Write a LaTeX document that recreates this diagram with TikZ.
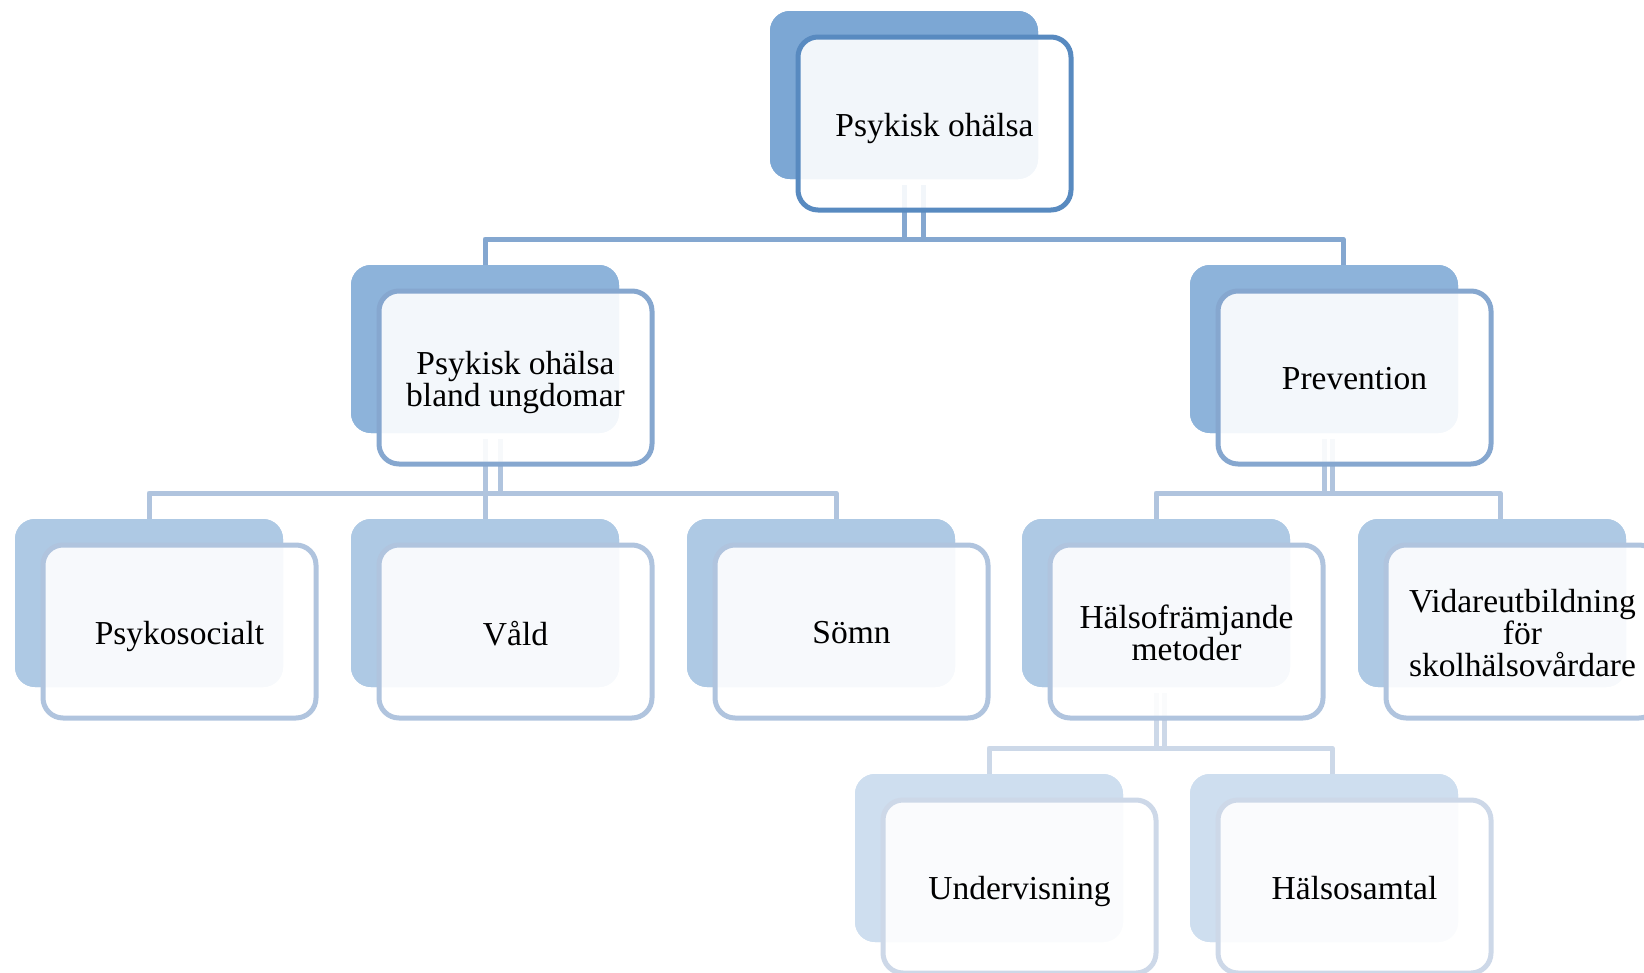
\documentclass[tikz,border=0pt]{standalone}
\usepackage{fontspec}
\setmainfont{Liberation Serif}
\definecolor{backA}{HTML}{7CA7D4}
\definecolor{lineA}{HTML}{588AC0}
\definecolor{connA}{HTML}{84A7D0}
\definecolor{backB}{HTML}{8DB3DA}
\definecolor{lineB}{HTML}{86A7CF}
\definecolor{connB}{HTML}{B0C4DE}
\definecolor{backC}{HTML}{AEC9E4}
\definecolor{lineC}{HTML}{B0C4DE}
\definecolor{connC}{HTML}{CCD8E8}
\definecolor{backD}{HTML}{CEDEEF}
\definecolor{lineD}{HTML}{CDD8E8}
\begin{document}
\begin{tikzpicture}[x=1pt,y=-1pt,
  back/.style={rectangle, rounded corners=20pt, minimum width=268pt, minimum height=168pt, inner sep=0pt, outer sep=0pt},
  front/.style={rectangle, rounded corners=20pt, minimum width=273pt, minimum height=173pt, line width=5pt, fill=white, fill opacity=0.9, outer sep=0pt},
  label/.style={align=center, inner sep=0pt, yshift=-5pt, font=\fontsize{33.5}{32}\selectfont, execute at end node={\vphantom{y}}},
  conn/.style={line width=5pt, line join=round},
  backa/.style={back, fill=backA}, fronta/.style={front, draw=lineA},
  backb/.style={back, fill=backB}, frontb/.style={front, draw=lineB},
  backc/.style={back, fill=backC}, frontc/.style={front, draw=lineC},
  backd/.style={back, fill=backD}, frontd/.style={front, draw=lineD},
]
\useasboundingbox (0,0) rectangle (1644,972);
\clip (0,0) rectangle (1644,972);
% back rectangles (positions)
\node[backa] (b0) at (904,95) {};
\node[backb] (bL) at (485,349) {};
\node[backb] (bR) at (1324,349) {};
\node[backc] (bP) at (149,603) {};
\node[backc] (bV) at (485,603) {};
\node[backc] (bS) at (821,603) {};
\node[backc] (bH) at (1156,603) {};
\node[backc] (bW) at (1492,603) {};
\node[backd] (bU) at (989,858) {};
\node[backd] (bT) at (1324,858) {};
\coordinate (m0) at ([yshift=26pt]bL.north);
\coordinate (m1) at ([yshift=26pt]bP.north);
\coordinate (m2) at ([yshift=26pt]bU.north);
% connectors
\draw[conn, draw=connA] ([yshift=-6pt]b0.south) |- (m0) -- (bL.north);
\draw[conn, draw=connA] ([xshift=19pt,yshift=-6pt]b0.south) |- ([xshift=19pt,yshift=26pt]bR.north) -- ([xshift=19pt]bR.north);
\draw[conn, draw=connA] (b0.south |- m0) -- ++(19,0);
\draw[conn, draw=connB] ([yshift=-6pt]bL.south) |- (m1) -- (bP.north);
\draw[conn, draw=connB] ([yshift=-6pt]bL.south) -- (bV.north);
\draw[conn, draw=connB] ([xshift=15pt,yshift=-6pt]bL.south) |- ([xshift=15pt,yshift=26pt]bS.north) -- ([xshift=15pt]bS.north);
\draw[conn, draw=connB] (bL.south |- m1) -- ++(15,0);
\draw[conn, draw=connB] ([yshift=-6pt]bR.south) |- ([yshift=26pt]bH.north) -- (bH.north);
\draw[conn, draw=connB] ([xshift=8pt,yshift=-6pt]bR.south) |- ([xshift=8pt,yshift=26pt]bW.north) -- ([xshift=8pt]bW.north);
\draw[conn, draw=connB] (bR.south |- m1) -- ++(8,0);
\draw[conn, draw=connC] ([yshift=-6pt]bH.south) |- (m2) -- (bU.north);
\draw[conn, draw=connC] ([xshift=8pt,yshift=-6pt]bH.south) |- ([xshift=8pt,yshift=26pt]bT.north) -- ([xshift=8pt]bT.north);
\draw[conn, draw=connC] (bH.south |- m2) -- ++(8,0);
% back rectangles again, over the connector ends
\node[backa] at (b0) {};
\node[backb] at (bL) {};
\node[backb] at (bR) {};
\node[backc] at (bP) {};
\node[backc] at (bV) {};
\node[backc] at (bS) {};
\node[backc] at (bH) {};
\node[backc] at (bW) {};
\node[backd] at (bU) {};
\node[backd] at (bT) {};
% front rectangles
\node[fronta] (f0) at (934.5,123.5) {};
\node[frontb] (fL) at (515.5,377.5) {};
\node[frontb] (fR) at (1354.5,377.5) {};
\node[frontc] (fP) at (179.5,631.5) {};
\node[frontc] (fV) at (515.5,631.5) {};
\node[frontc] (fS) at (851.5,631.5) {};
\node[frontc] (fH) at (1186.5,631.5) {};
\node[frontc] (fW) at (1522.5,631.5) {};
\node[frontd] (fU) at (1019.5,886.5) {};
\node[frontd] (fT) at (1354.5,886.5) {};
% texts
\node[label] (t0) at (f0) {Psykisk ohälsa};
\node[label] (tL) at (fL) {Psykisk ohälsa\\bland ungdomar};
\node[label] (tR) at (fR) {Prevention};
\node[label] (tP) at (fP) {Psykosocialt};
\node[label] (tV) at (fV) {Våld};
\node[label] (tS) at (fS) {Sömn};
\node[label] (tH) at (fH) {Hälsofrämjande\\metoder};
\node[label] (tW) at (fW) {Vidareutbildning\\för\\skolhälsovårdare};
\node[label] (tU) at (fU) {Undervisning};
\node[label] (tT) at (fT) {Hälsosamtal};
\end{tikzpicture}
\end{document}
